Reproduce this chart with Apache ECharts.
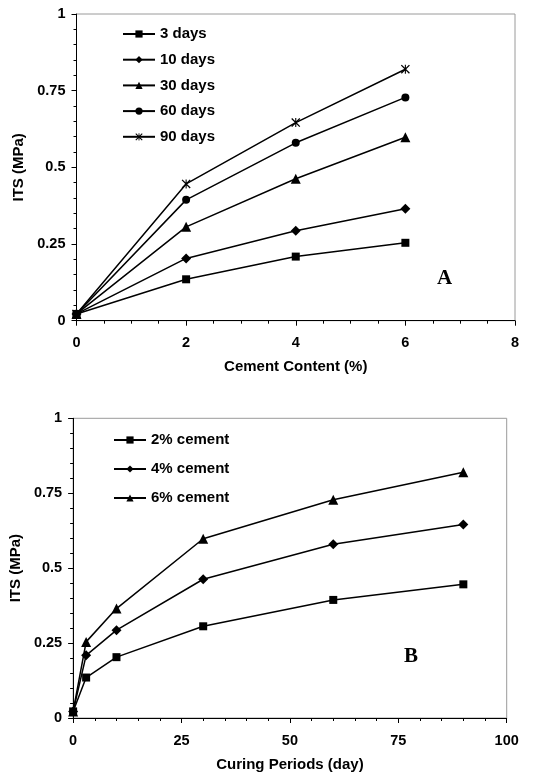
<!DOCTYPE html>
<html>
<head>
<meta charset="utf-8">
<script src="https://cdn.jsdelivr.net/npm/echarts@6/dist/echarts.min.js"></script>
<style>html,body{margin:0;padding:0;background:#fff}#c{width:534px;height:773px}</style>
</head>
<body>
<div id="c"></div>
<script>
// Chart A: ITS vs cement content
var cementContent = [0, 2, 4, 6];
var days3  = [0.022, 0.135, 0.209, 0.254];
var days10 = [0.022, 0.203, 0.293, 0.365];
var days30 = [0.022, 0.306, 0.463, 0.598];
var days60 = [0.022, 0.394, 0.580, 0.728];
var days90 = [0.022, 0.446, 0.646, 0.820];
var namesA = ['3 days', '10 days', '30 days', '60 days', '90 days'];

// Chart B: ITS vs curing period
var curingDays = [0, 3, 10, 30, 60, 90];
var cement2 = [0.022, 0.135, 0.203, 0.306, 0.394, 0.446];
var cement4 = [0.022, 0.209, 0.293, 0.463, 0.580, 0.646];
var cement6 = [0.022, 0.254, 0.365, 0.598, 0.728, 0.820];
var namesB = ['2% cement', '4% cement', '6% cement'];

var yTicks = ['0', '0.25', '0.5', '0.75', '1'];

var STAR = 'path://M0,1L1,0L10,9L9,10ZM9,0L10,1L1,10L0,9ZM4.4,0L5.6,0L5.6,10L4.4,10Z';
var symA = [['rect', 8], ['diamond', 10], ['triangle', 10], ['circle', 8], [STAR, 9]];
var symB = [['rect', 8], ['diamond', 10], ['triangle', 10]];

function pairs(xs, ys) { return xs.map(function (x, i) { return [x, ys[i]]; }); }

var FONT = 'Liberation Sans';
var tickLab = { color: '#000', fontFamily: FONT, fontWeight: 'bold', fontSize: 14.5 };
var nameLab = { color: '#000', fontFamily: FONT, fontWeight: 'bold', fontSize: 15 };

function yAxis(gi, gap) {
  return {
    type: 'value', gridIndex: gi, min: 0, max: 1, interval: 0.25,
    axisLine: { show: true, lineStyle: { color: '#000', width: 1 } },
    axisTick: { show: true, length: 5, lineStyle: { color: '#000' } },
    minorTick: { show: true, splitNumber: 5, length: 3, lineStyle: { color: '#000' } },
    splitLine: { show: false },
    axisLabel: Object.assign({ margin: 11, formatter: function (v) { return yTicks[Math.round(v / 0.25)]; } }, tickLab),
    name: 'ITS (MPa)', nameLocation: 'middle', nameGap: gap,
    nameTextStyle: nameLab
  };
}
function xAxis(gi, max, interval, minorSplit, name, gap) {
  return {
    type: 'value', gridIndex: gi, min: 0, max: max, interval: interval,
    axisLine: { show: true, onZero: false, lineStyle: { color: '#000', width: 1 } },
    axisTick: { show: true, length: 5, lineStyle: { color: '#000' } },
    minorTick: { show: true, splitNumber: minorSplit, length: 3, lineStyle: { color: '#000' } },
    splitLine: { show: false },
    axisLabel: Object.assign({ margin: 15 }, tickLab),
    name: name, nameLocation: 'middle', nameGap: gap,
    nameTextStyle: nameLab
  };
}

var series = [];
var seriesA = [days3, days10, days30, days60, days90];
seriesA.forEach(function (ys, i) {
  series.push({
    name: namesA[i], type: 'line', xAxisIndex: 0, yAxisIndex: 0,
    data: pairs(cementContent, ys),
    symbol: symA[i][0], symbolSize: symA[i][1], showAllSymbol: true,
    lineStyle: { color: '#000', width: 1.5 }, itemStyle: { color: '#000' },
    clip: false, animation: false
  });
});
var seriesB = [cement2, cement4, cement6];
seriesB.forEach(function (ys, i) {
  series.push({
    name: namesB[i], type: 'line', xAxisIndex: 1, yAxisIndex: 1,
    data: pairs(curingDays, ys),
    symbol: symB[i][0], symbolSize: symB[i][1], showAllSymbol: true,
    lineStyle: { color: '#000', width: 1.5 }, itemStyle: { color: '#000' },
    clip: false, animation: false
  });
});

var legendText = { color: '#000', fontFamily: FONT, fontWeight: 'bold', fontSize: 15, lineHeight: 16 };

var chart = echarts.init(document.getElementById('c'), null, { renderer: 'canvas' });
chart.setOption({
  animation: false,
  backgroundColor: '#fff',
  grid: [
    { left: 76.5, top: 14, right: 19, height: 306.7, show: true, borderColor: '#9a9a9a', borderWidth: 1, backgroundColor: 'transparent', containLabel: false },
    { left: 72.7, top: 418.3, right: 27.3, height: 300, show: true, borderColor: '#9a9a9a', borderWidth: 1, backgroundColor: 'transparent', containLabel: false }
  ],
  xAxis: [
    xAxis(0, 8, 2, 4, 'Cement Content (%)', 39),
    xAxis(1, 100, 25, 5, 'Curing Periods (day)', 39)
  ],
  yAxis: [yAxis(0, 41), yAxis(1, 37.5)],
  legend: [
    { data: namesA, orient: 'vertical', left: 122, top: 26, padding: 0, itemWidth: 32, itemHeight: 9, itemGap: 9.7, textStyle: legendText, selectedMode: false },
    { data: namesB, orient: 'vertical', left: 113, top: 432, padding: 0, itemWidth: 32, itemHeight: 9, itemGap: 13, textStyle: legendText, selectedMode: false }
  ],
  title: [
    { text: 'A', left: 437, top: 268, padding: 0, textStyle: { fontFamily: 'Liberation Serif', fontWeight: 'bold', fontSize: 21, color: '#000' } },
    { text: 'B', left: 404, top: 646, padding: 0, textStyle: { fontFamily: 'Liberation Serif', fontWeight: 'bold', fontSize: 21, color: '#000' } }
  ],
  series: series
});
</script>
</body>
</html>
